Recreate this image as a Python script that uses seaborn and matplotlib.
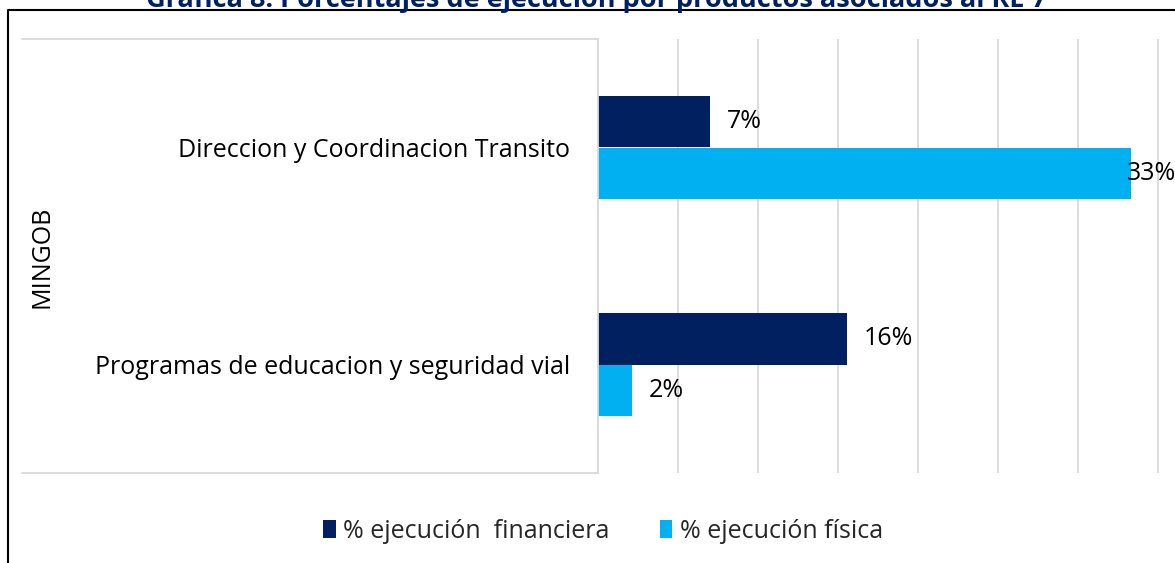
import pandas as pd
import matplotlib.pyplot as plt
import seaborn as sns
from matplotlib.lines import Line2D
from matplotlib.patches import Patch

# --- data ---
productos = ["Direccion y Coordinacion Transito", "Programas de educacion y seguridad vial"]
series = ["% ejecución  financiera", "% ejecución física"]
pct_financiera = [0.0703, 0.1555]
pct_fisica = [0.333, 0.0213]
grupo = "MINGOB"
titulo = "Gráfica 8: Porcentajes de ejecución por productos asociados al RE 7"

df = pd.DataFrame({
    "producto": productos * 2,
    "serie": [series[0]] * 2 + [series[1]] * 2,
    "valor": pct_financiera + pct_fisica,
})

colores = {series[0]: "#002060", series[1]: "#00B0F0"}

sns.set_theme(style="white")
plt.rcParams["font.family"] = ["Open Sans", "DejaVu Sans"]
FS = 18

W, H = 1175, 563
fig = plt.figure(figsize=(W / 100, H / 100), dpi=100)

# plot area in pixels
left, right, top, bottom = 598, 1175, 39, 473
ax = fig.add_axes([left / W, 1 - bottom / H, (right - left) / W, (bottom - top) / H])

sns.barplot(data=df, y="producto", x="valor", hue="serie", palette=colores,
            orient="h", width=0.475, dodge=True, ax=ax, legend=False,
            saturation=1, edgecolor="none")

px_per_unit = 1600.0  # 16 px per percent
ax.set_xlim(0, (right - left) / px_per_unit)
ax.set_xticks([i * 0.05 for i in range(8)])
ax.set_xticklabels([])
ax.tick_params(axis="x", length=0)
ax.grid(axis="x", color="#D9D9D9", linewidth=1.3)
ax.set_axisbelow(True)

for s in ["top", "right", "bottom"]:
    ax.spines[s].set_visible(False)
ax.spines["left"].set_color("#D9D9D9")
ax.spines["left"].set_linewidth(1.3)

ax.set_xlabel("")
ax.set_ylabel("")
ax.tick_params(axis="y", length=0, pad=20, labelsize=FS, labelcolor="black")

# value labels
for cont in ax.containers:
    for bar in cont:
        v = bar.get_width()
        pad = -3 if v > 0.3 else 12
        ax.annotate(f"{v * 100:.0f}%", (v, bar.get_y() + bar.get_height() / 2),
                    xytext=(pad, 0), textcoords="offset points",
                    ha="left", va="center", fontsize=FS, color="black",
                    annotation_clip=False)

# multi-level category frame lines
for yy in (top, bottom):
    fig.add_artist(Line2D([22 / W, left / W], [1 - yy / H, 1 - yy / H],
                          color="#D9D9D9", linewidth=1.3))

fig.text(42 / W, 1 - 257 / H, grupo, rotation=90, ha="center", va="center",
         fontsize=FS, color="black")

# chart border (partly outside the picture)
fig.add_artist(Line2D([8 / W, 8 / W, 1.0], [0, 1 - 10 / H, 1 - 10 / H],
                      color="black", linewidth=1.5))

fig.text(596 / W, 1 - 7 / H, titulo, ha="center", va="baseline",
         fontsize=19.5, fontweight="bold", color="#002060")

handles = [Patch(facecolor=colores[s], edgecolor="none", label=s) for s in series]
fig.legend(handles=handles, loc="center", bbox_to_anchor=(603 / W, 1 - 531 / H),
           ncol=2, frameon=False, fontsize=FS, handlelength=0.5, handleheight=0.75,
           handletextpad=0.3, columnspacing=2.0)

fig.savefig("out.png", dpi=100)
